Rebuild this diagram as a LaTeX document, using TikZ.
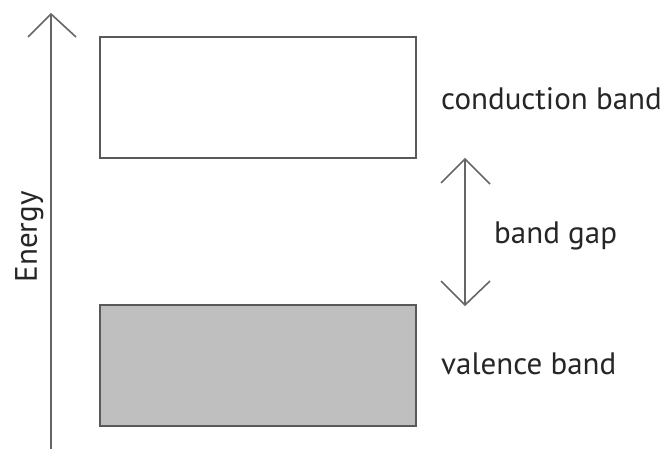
\documentclass[tikz,border=0pt]{standalone}
\usepackage{fontspec}
\setmainfont{PT Sans}
\begin{document}
\begin{tikzpicture}[x=1pt,y=-1pt,
  ln/.style={draw=black!60,line width=1.6pt},
  band/.style={draw=black!65,line width=1.8pt},
  txt/.style={font=\fontsize{31}{34}\selectfont,text=black!85,inner sep=0pt},
  lbl/.style={txt,anchor=base west}]
\useasboundingbox (0,0) rectangle (665,449);
% energy axis
\coordinate (ebot) at (51,449);
\coordinate (etop) at (51,14);
\coordinate (ewl) at (28,37);
\coordinate (ewr) at (76,37);
\draw[ln] (ebot) -- (etop);
\draw[ln,line join=miter] (ewl) -- (etop) -- (ewr);
\node[txt,rotate=90,anchor=base] (energy) at (37,237) {Energy};
% bands
\draw[band,fill=white] (100,37) rectangle (416,158);
\draw[band,fill=black!25] (100,305) rectangle (416,426);
% band gap arrow
\coordinate (gtop) at (465,159);
\coordinate (gbot) at (465,305);
\draw[ln] (gtop) -- (gbot);
\draw[ln] (441,183) -- (gtop) -- (490,184);
\draw[ln] (441,281) -- (gbot) -- (490,281);
% labels
\node[lbl] (cl) at (441,110) {conduction band};
\node[lbl] (gl) at (494,244) {band gap};
\node[lbl] (vl) at (441,375) {valence band};
\end{tikzpicture}
\end{document}
